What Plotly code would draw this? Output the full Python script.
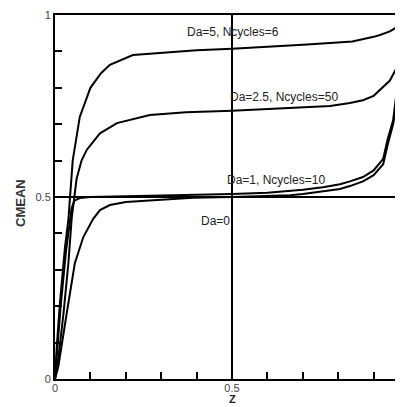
import plotly.graph_objects as go

# Da=5, Ncycles=6
z_da5 = [0, 0.005, 0.014, 0.028, 0.038, 0.042, 0.05, 0.07, 0.1, 0.13, 0.155, 0.22, 0.316, 0.4, 0.5, 0.6, 0.7,
         0.777, 0.84, 0.9, 0.918, 0.946, 0.966, 0.983]
c_da5 = [0, 0.09, 0.21, 0.36, 0.44, 0.50, 0.60, 0.72, 0.80, 0.84, 0.863, 0.89, 0.898, 0.903, 0.907, 0.912, 0.918,
         0.923, 0.927, 0.94, 0.945, 0.955, 0.967, 0.985]

# Da=2.5, Ncycles=50
z_da25 = [0, 0.01, 0.024, 0.038, 0.047, 0.053, 0.061, 0.075, 0.09, 0.127, 0.175, 0.268, 0.37, 0.5, 0.6, 0.69,
          0.777, 0.833, 0.87, 0.9, 0.918, 0.946, 0.966, 0.975, 0.983]
c_da25 = [0, 0.06, 0.18, 0.32, 0.44, 0.49, 0.55, 0.60, 0.63, 0.675, 0.703, 0.725, 0.733, 0.737, 0.742, 0.747,
          0.750, 0.758, 0.766, 0.778, 0.794, 0.82, 0.857, 0.90, 0.95]

# Da=1, Ncycles=10
z_da1 = [0, 0.006, 0.016, 0.031, 0.041, 0.047, 0.055, 0.07, 0.1, 0.2, 0.3, 0.4, 0.5, 0.6, 0.664, 0.7, 0.757,
         0.805, 0.833, 0.87, 0.9, 0.927, 0.94, 0.955, 0.969, 0.983]
c_da1 = [0, 0.08, 0.2, 0.35, 0.43, 0.47, 0.49, 0.497, 0.5, 0.502, 0.503, 0.505, 0.508, 0.512, 0.517, 0.52, 0.527,
         0.535, 0.543, 0.555, 0.573, 0.605, 0.66, 0.71, 0.82, 0.87]

# Da=0
z_da0 = [0, 0.0094, 0.033, 0.056, 0.08, 0.108, 0.127, 0.155, 0.2, 0.3, 0.39, 0.5, 0.6, 0.664, 0.7, 0.757, 0.805,
         0.833, 0.87, 0.9, 0.927, 0.94, 0.955, 0.966, 0.975, 0.983]
c_da0 = [0, 0.034, 0.18, 0.318, 0.39, 0.44, 0.464, 0.478, 0.486, 0.493, 0.498, 0.5, 0.502, 0.505, 0.508, 0.515,
         0.522, 0.53, 0.543, 0.56, 0.59, 0.645, 0.70, 0.76, 0.81, 0.85]

x_tick_vals = [0, 0.5]
x_tick_text = ["0", "0.5"]
y_tick_vals = [0, 0.5, 1]
y_tick_text = ["0", "0.5", "1"]

labels = ["Da=5, Ncycles=6", "Da=2.5, Ncycles=50", "Da=1, Ncycles=10", "Da=0"]
label_x = [0.503, 0.647, 0.624, 0.452]
label_y = [0.953, 0.775, 0.547, 0.434]

FONT = "Liberation Sans, Arial, sans-serif"

fig = go.Figure()
for zz, cc in [(z_da5, c_da5), (z_da25, c_da25), (z_da1, c_da1), (z_da0, c_da0)]:
    fig.add_trace(go.Scatter(x=zz, y=cc, mode="lines", line=dict(color="black", width=2),
                             showlegend=False, hoverinfo="skip"))

for t, lx, ly in zip(labels, label_x, label_y):
    fig.add_annotation(x=lx, y=ly, xref="x", yref="y", text=t, showarrow=False,
                       font=dict(family=FONT, size=12, color="#222"))

# crosshair lines at 0.5
fig.add_shape(type="line", xref="x", yref="y", x0=0.5, x1=0.5, y0=0, y1=1,
              line=dict(color="black", width=2))
fig.add_shape(type="line", xref="paper", yref="y", x0=0, x1=1, y0=0.5, y1=0.5,
              line=dict(color="black", width=2))

fig.add_annotation(x=0.5, y=-0.0769, xref="x", yref="paper", text="<b>Z</b>", showarrow=False,
                   yanchor="bottom", font=dict(family=FONT, size=11, color="#222"))
fig.add_annotation(x=-0.1006, y=0.4835, xref="paper", yref="paper", text="<b>CMEAN</b>", showarrow=False,
                   xanchor="center", yanchor="middle",
                   textangle=-90, font=dict(family=FONT, size=13, color="#333"))

# the page body has an 8px margin, so the figure is offset by 8px
fig.update_layout(
    width=395, height=399, autosize=False,
    margin=dict(l=47, r=0, t=7, b=28),
    paper_bgcolor="white", plot_bgcolor="white",
    xaxis=dict(range=[0, 0.983], showgrid=False, zeroline=False, showline=True, linecolor="black",
               linewidth=2, mirror=True, ticks="inside", ticklen=8, tickwidth=2, tickcolor="black",
               tickvals=x_tick_vals, ticktext=x_tick_text, ticklabelstandoff=-2,
               tickfont=dict(family=FONT, size=11, color="#444"),
               minor=dict(ticks="inside", dtick=0.1, tick0=0, ticklen=7, tickwidth=2, tickcolor="black")),
    yaxis=dict(range=[0, 1], showgrid=False, zeroline=False, showline=True, linecolor="black",
               linewidth=2, mirror=False, ticks="inside", ticklen=8, tickwidth=2, tickcolor="black",
               tickvals=y_tick_vals, ticktext=y_tick_text, ticklabelstandoff=0,
               tickfont=dict(family=FONT, size=11, color="#444"),
               minor=dict(ticks="inside", dtick=0.1, tick0=0, ticklen=7, tickwidth=2, tickcolor="black")),
)

fig.write_html("out.html")
